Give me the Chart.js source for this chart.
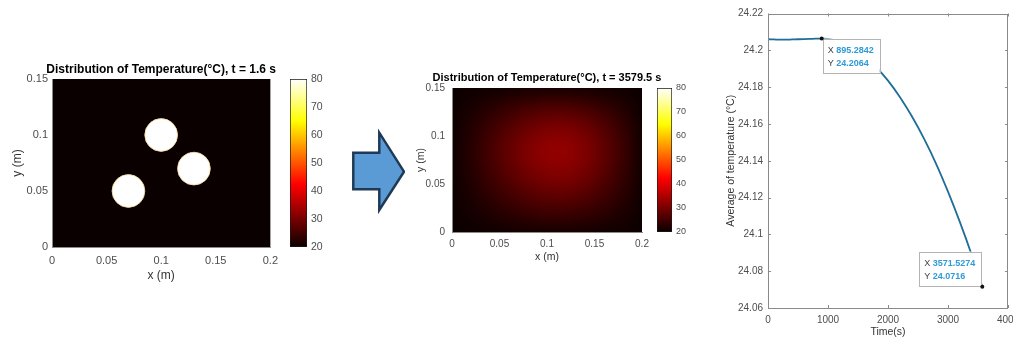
<!DOCTYPE html>
<html>
<head>
<meta charset="utf-8">
<script src="https://cdn.jsdelivr.net/npm/chart.js@4.4.1/dist/chart.umd.min.js"></script>
<style>
  html, body { margin: 0; padding: 0; background: #fff; width: 1013px; height: 338px; overflow: hidden; }
  canvas, svg { position: absolute; }
</style>
</head>
<body>
<canvas id="heatStart" width="285" height="240" style="left:0;top:50px"></canvas>
<canvas id="barStart" width="60" height="240" style="left:285px;top:50px"></canvas>
<svg width="60" height="90" style="left:345px;top:127px">
  <polygon points="8.3,25.7 34.3,25.7 34.3,5.7 59,44.7 34.3,83 34.3,62.3 8.3,62.3"
           fill="#5b9bd5" stroke="#1e3a56" stroke-width="2.5" stroke-linejoin="miter"/>
</svg>
<canvas id="heatEnd" width="275" height="220" style="left:400px;top:60px"></canvas>
<canvas id="barEnd" width="50" height="220" style="left:652px;top:60px"></canvas>
<canvas id="avgChart" width="330" height="338" style="left:700px;top:0"></canvas>
<script>
// colour limits of both maps (°C)
const tempMin = 20;
const tempMax = 80;
const barTicks = [20, 30, 40, 50, 60, 70, 80];

// map axes (m)
const mapXTicks = [0, 0.05, 0.1, 0.15, 0.2];
const mapYTicks = [0, 0.05, 0.1, 0.15];

// t = 1.6 s : three hot discs in a cold plate
const ambientTemp = 20;
const sourceTemp = 80;
const sourceX = [0.1, 0.13, 0.07];
const sourceY = [0.1, 0.07, 0.05];
const sourceRadius = 0.015;

// t = 3579.5 s : temperature read on a coarse grid (rows from y = 0.15 down to 0)
const gridX = [0, 0.02, 0.04, 0.06, 0.08, 0.1, 0.12, 0.14, 0.16, 0.18, 0.2];
const gridY = [0.15, 0.135, 0.12, 0.105, 0.09, 0.075, 0.06, 0.045, 0.03, 0.015, 0];
const gridT = [
  [20.0, 20.2, 20.4, 20.7, 20.9, 21.0, 21.0, 20.9, 20.6, 20.4, 20.1],
  [20.1, 21.0, 22.1, 23.2, 24.2, 24.8, 24.8, 24.2, 23.1, 21.7, 20.2],
  [20.2, 21.7, 23.5, 25.4, 27.1, 28.2, 28.3, 27.2, 25.2, 23.0, 20.4],
  [20.2, 22.2, 24.7, 27.2, 29.4, 30.8, 31.0, 29.5, 26.9, 23.9, 20.6],
  [20.3, 22.5, 25.4, 28.2, 30.7, 32.4, 32.5, 30.8, 27.9, 24.5, 20.6],
  [20.3, 22.5, 25.3, 28.1, 30.6, 32.2, 32.4, 30.7, 27.8, 24.4, 20.6],
  [20.2, 22.2, 24.7, 27.2, 29.4, 30.8, 31.0, 29.5, 26.9, 23.9, 20.6],
  [20.2, 21.8, 23.8, 25.8, 27.6, 28.8, 28.9, 27.7, 25.6, 23.2, 20.5],
  [20.1, 21.3, 22.7, 24.2, 25.5, 26.3, 26.4, 25.5, 24.0, 22.3, 20.3],
  [20.1, 20.8, 21.6, 22.5, 23.3, 23.8, 23.8, 23.3, 22.4, 21.4, 20.2],
  [20.0, 20.2, 20.4, 20.7, 20.9, 21.0, 21.0, 20.9, 20.6, 20.4, 20.1]
];

// average temperature over time
const timeS = [0, 100, 200, 300, 400, 500, 600, 700, 800, 895.2842, 1000, 1200, 1400, 1600,
  1800, 2000, 2200, 2400, 2600, 2800, 3000, 3200, 3400, 3571.5274];
const avgTemp = [24.2060, 24.2059, 24.2058, 24.2058, 24.2059, 24.2060, 24.2061, 24.2062, 24.2063,
  24.2064, 24.2062, 24.2048, 24.2018, 24.1972, 24.1910, 24.1835, 24.1745, 24.1640, 24.1520,
  24.1385, 24.1232, 24.1065, 24.0884, 24.0716];
const timeTicks = [0, 1000, 2000, 3000, 4000];
const avgTicks = [24.06, 24.08, 24.1, 24.12, 24.14, 24.16, 24.18, 24.2, 24.22];
// data tips
const tipTime = [895.2842, 3571.5274];
const tipTemp = [24.2064, 24.0716];

Chart.defaults.font.family = '"Liberation Sans", Arial, sans-serif';
Chart.defaults.color = '#4d4d4d';

// matlab "hot" colormap
function hot(t) {
  const v = Math.min(1, Math.max(0, (t - tempMin) / (tempMax - tempMin)));
  const r = Math.min(1, 0.0417 + v / 0.375 * 0.9583);
  const g = Math.min(1, Math.max(0, (v - 0.375) / 0.375));
  const b = Math.min(1, Math.max(0, (v - 0.75) / 0.25));
  return `rgb(${Math.round(r * 255)},${Math.round(g * 255)},${Math.round(b * 255)})`;
}

const fmt = v => String(+v.toFixed(4));
const setTicks = list => s => { s.ticks = list.map(v => ({ value: v })); };

// title centred over the plot area
const plotTitle = {
  id: 'plotTitle',
  afterDraw(chart, args, o) {
    const { ctx, chartArea: a } = chart;
    ctx.save();
    ctx.font = `bold ${o.size}px "Liberation Sans", Arial, sans-serif`;
    ctx.fillStyle = '#000';
    ctx.textAlign = 'center';
    ctx.textBaseline = 'middle';
    ctx.fillText(o.text, (a.left + a.right) / 2, a.top - o.gap);
    ctx.restore();
  }
};

// plate at ambient temperature
const plateFill = {
  id: 'plateFill',
  beforeDatasetsDraw(chart) {
    const { ctx, chartArea: a } = chart;
    ctx.save();
    ctx.fillStyle = hot(ambientTemp);
    ctx.fillRect(a.left, a.top, a.width, a.height);
    ctx.restore();
  }
};

// grid cells, smoothed like shading interp
const gridCells = {
  id: 'gridCells',
  beforeDatasetsDraw(chart, args, o) {
    const { ctx, chartArea: a, scales: { x, y } } = chart;
    const off = document.createElement('canvas');
    off.width = chart.width;
    off.height = chart.height;
    const oc = off.getContext('2d');
    const hx = (gridX[1] - gridX[0]) / 2;
    const hy = (gridY[0] - gridY[1]) / 2;
    gridT.forEach((row, j) => row.forEach((t, i) => {
      const x0 = x.getPixelForValue(gridX[i] - hx), x1 = x.getPixelForValue(gridX[i] + hx);
      const y0 = y.getPixelForValue(gridY[j] + hy), y1 = y.getPixelForValue(gridY[j] - hy);
      oc.fillStyle = hot(t);
      oc.fillRect(x0, y0, x1 - x0 + 0.5, y1 - y0 + 0.5);
    }));
    ctx.save();
    ctx.beginPath();
    ctx.rect(a.left, a.top, a.width, a.height);
    ctx.clip();
    ctx.fillStyle = hot(ambientTemp);
    ctx.fillRect(a.left, a.top, a.width, a.height);
    ctx.filter = `blur(${o.blur}px)`;
    ctx.drawImage(off, 0, 0);
    ctx.restore();
  }
};

function mapScales(o) {
  return {
    x: {
      type: 'linear', min: 0, max: 0.2,
      afterBuildTicks: setTicks(mapXTicks),
      afterFit: s => { s.height = o.xHeight; },
      grid: { display: false, drawTicks: false },
      border: { color: '#8a8a8a', z: 1 },
      ticks: { padding: o.xPad, autoSkip: false, maxRotation: 0, font: { size: o.tick }, callback: fmt },
      title: { display: true, text: 'x (m)', color: '#333', font: { size: o.label }, padding: { top: 0, bottom: o.xTitlePad } }
    },
    y: {
      type: 'linear', min: 0, max: 0.15,
      afterBuildTicks: setTicks(mapYTicks),
      afterFit: s => { s.width = o.yWidth; },
      grid: { display: false, drawTicks: false },
      border: { color: '#8a8a8a', z: 1 },
      ticks: { padding: o.yPad, autoSkip: false, font: { size: o.tick }, callback: fmt },
      title: { display: true, text: 'y (m)', color: '#333', font: { size: o.label }, padding: { top: o.yTitlePad, bottom: 0 } }
    }
  };
}

const still = { responsive: false, animation: false, events: [] };
const noLegend = { legend: { display: false }, tooltip: { enabled: false } };

new Chart(document.getElementById('heatStart'), {
  type: 'scatter',
  data: {
    datasets: [{
      data: sourceX.map((x, i) => ({ x, y: sourceY[i] })),
      pointRadius: c => {
        const s = c.chart.scales.x;
        return s.getPixelForValue(sourceRadius) - s.getPixelForValue(0);
      },
      backgroundColor: hot(sourceTemp),
      borderColor: 'rgba(248,222,160,0.85)',
      borderWidth: 1
    }]
  },
  options: {
    ...still,
    layout: { padding: { top: 29, right: 12, left: 0, bottom: 0 } },
    plugins: { ...noLegend, plotTitle: { text: 'Distribution of Temperature(°C), t = 1.6 s', size: 12, gap: 9 } },
    scales: mapScales({ xHeight: 43, yWidth: 52, tick: 11, label: 12, xPad: 7, yPad: 4, xTitlePad: 7, yTitlePad: 10 })
  },
  plugins: [plateFill, plotTitle]
});

new Chart(document.getElementById('heatEnd'), {
  type: 'scatter',
  data: { datasets: [] },
  options: {
    ...still,
    layout: { padding: { top: 28, right: 33, left: 0, bottom: 0 } },
    plugins: { ...noLegend, gridCells: { blur: 7 }, plotTitle: { text: 'Distribution of Temperature(°C), t = 3579.5 s', size: 11, gap: 10 } },
    scales: mapScales({ xHeight: 48, yWidth: 52, tick: 10, label: 10.5, xPad: 6, yPad: 7, xTitlePad: 17, yTitlePad: 15 })
  },
  plugins: [gridCells, plotTitle]
});

function hotGradient(chart) {
  const a = chart.chartArea;
  if (!a) return hot(tempMin);
  const g = chart.ctx.createLinearGradient(0, a.bottom, 0, a.top);
  [0, 0.125, 0.25, 0.375, 0.5, 0.625, 0.75, 0.875, 1].forEach(p => g.addColorStop(p, hot(tempMin + p * (tempMax - tempMin))));
  return g;
}

function colorbar(id, o) {
  return new Chart(document.getElementById(id), {
    type: 'bar',
    data: {
      labels: [''],
      datasets: [{
        data: [[tempMin, tempMax]],
        backgroundColor: c => hotGradient(c.chart),
        borderColor: '#1a1a1a', borderWidth: 1, borderSkipped: false,
        barPercentage: 1, categoryPercentage: 1
      }]
    },
    options: {
      ...still,
      layout: { padding: { top: o.top, bottom: o.bottom, left: 5, right: 0 } },
      plugins: noLegend,
      scales: {
        x: { display: false },
        y: {
          position: 'right', min: tempMin, max: tempMax,
          afterBuildTicks: setTicks(barTicks),
          afterFit: s => { s.width = o.width; },
          grid: { display: false, drawTicks: false },
          border: { display: false },
          ticks: { padding: 4, font: { size: o.tick } }
        }
      }
    }
  });
}
colorbar('barStart', { top: 29, bottom: 43, width: 38, tick: 10.5 });
colorbar('barEnd', { top: 28, bottom: 48, width: 30, tick: 9 });

// boxed axes with inward ticks
const boxFrame = {
  id: 'boxFrame',
  afterDraw(chart, args, o) {
    const { ctx, chartArea: a, scales: { x, y } } = chart;
    ctx.save();
    ctx.strokeStyle = o.color;
    ctx.lineWidth = 1;
    ctx.beginPath();
    ctx.rect(Math.round(a.left) + 0.5, Math.round(a.top) + 0.5, Math.round(a.width) - 1, Math.round(a.height) - 1);
    x.ticks.forEach(t => {
      const p = Math.round(x.getPixelForValue(t.value)) + 0.5;
      ctx.moveTo(p, a.bottom); ctx.lineTo(p, a.bottom - o.len);
      ctx.moveTo(p, a.top); ctx.lineTo(p, a.top + o.len);
    });
    y.ticks.forEach(t => {
      const p = Math.round(y.getPixelForValue(t.value)) + 0.5;
      ctx.moveTo(a.left, p); ctx.lineTo(a.left + o.len, p);
      ctx.moveTo(a.right, p); ctx.lineTo(a.right - o.len, p);
    });
    ctx.stroke();
    ctx.restore();
  }
};

// data tip boxes, drawn over the curve
const dataTips = {
  id: 'dataTips',
  afterDatasetDraw(chart, args, o) {
    if (args.index !== 0) return;
    const { ctx, scales: { x, y } } = chart;
    ctx.save();
    tipTime.forEach((t, i) => {
      const px = x.getPixelForValue(t), py = y.getPixelForValue(tipTemp[i]);
      const lines = [['X', t.toFixed(4)], ['Y', tipTemp[i].toFixed(4)]];
      ctx.font = 'bold 9px "Liberation Sans", Arial, sans-serif';
      const valW = Math.max(...lines.map(l => ctx.measureText(l[1]).width));
      ctx.font = '9px "Liberation Sans", Arial, sans-serif';
      const keyW = ctx.measureText('X ').width;
      const w = 5 + keyW + valW + 6, h = 34;
      const bx = o.anchors[i] === 'topleft' ? px + 1 : px - w - 1;
      const by = o.anchors[i] === 'topleft' ? py : py - h - 1;
      ctx.fillStyle = '#fff';
      ctx.strokeStyle = '#b4b4b4';
      ctx.lineWidth = 1;
      ctx.fillRect(bx, by, w, h);
      ctx.strokeRect(Math.round(bx) + 0.5, Math.round(by) + 0.5, Math.round(w), Math.round(h));
      ctx.textBaseline = 'middle';
      lines.forEach((l, k) => {
        const ly = by + 12 + k * 12.5;
        ctx.font = '9px "Liberation Sans", Arial, sans-serif';
        ctx.fillStyle = '#404040';
        ctx.fillText(l[0], bx + 5, ly);
        ctx.font = 'bold 9px "Liberation Sans", Arial, sans-serif';
        ctx.fillStyle = '#2e9ad6';
        ctx.fillText(l[1], bx + 5 + keyW, ly);
      });
    });
    ctx.restore();
  }
};

new Chart(document.getElementById('avgChart'), {
  type: 'scatter',
  data: {
    datasets: [
      {
        data: timeS.map((t, i) => ({ x: t, y: avgTemp[i] })),
        showLine: true, borderColor: '#1f6d99', borderWidth: 1.8,
        pointRadius: 0, cubicInterpolationMode: 'monotone', order: 1
      },
      {
        data: tipTime.map((t, i) => ({ x: t, y: tipTemp[i] })),
        pointRadius: 2, backgroundColor: '#111', borderWidth: 0, order: 0
      }
    ]
  },
  options: {
    ...still,
    layout: { padding: { top: 13.5, right: 22, left: 0, bottom: 0 } },
    plugins: { ...noLegend, boxFrame: { color: '#8a8a8a', len: 3 }, dataTips: { anchors: ['topleft', 'bottomright'] } },
    scales: {
      x: {
        type: 'linear', min: 0, max: 4000,
        afterBuildTicks: setTicks(timeTicks),
        afterFit: s => { s.height = 30; },
        grid: { display: false, drawTicks: false },
        border: { display: false },
        ticks: { padding: 6, autoSkip: false, maxRotation: 0, font: { size: 10 }, callback: fmt },
        title: { display: true, text: 'Time(s)', color: '#333', font: { size: 10.5 }, padding: { top: 0, bottom: 0 } }
      },
      y: {
        type: 'linear', min: 24.06, max: 24.22,
        afterBuildTicks: setTicks(avgTicks),
        afterFit: s => { s.width = 68; },
        grid: { display: false, drawTicks: false },
        border: { display: false },
        ticks: { padding: 5, autoSkip: false, font: { size: 10 }, callback: fmt },
        title: { display: true, text: 'Average of temperature (°C)', color: '#333', font: { size: 10.5 }, padding: { top: 25, bottom: 0 } }
      }
    }
  },
  plugins: [dataTips, boxFrame]
});
</script>
</body>
</html>
